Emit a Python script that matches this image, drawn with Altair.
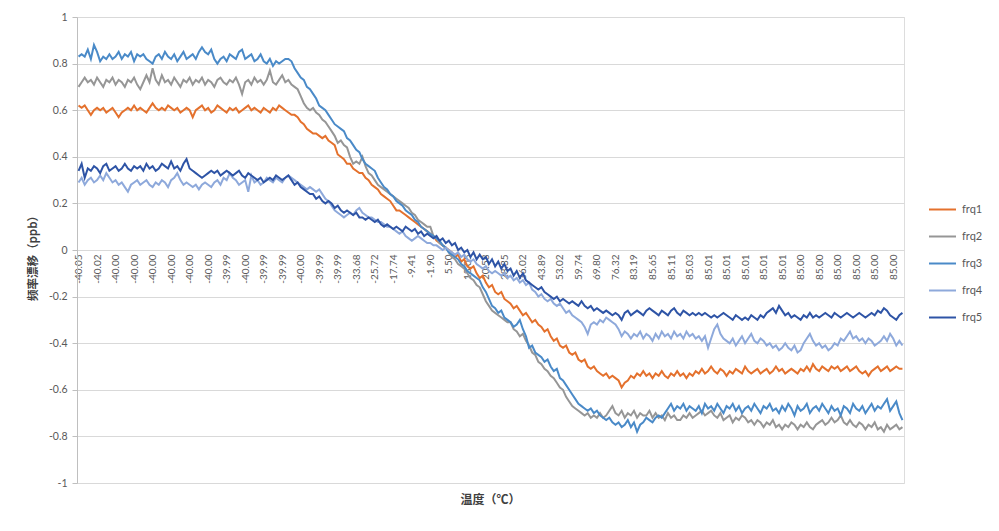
import altair as alt
import pandas as pd

SERIES = ["frq1", "frq2", "frq3", "frq4", "frq5"]
COLORS = ["#E4712D", "#969696", "#4A8AC8", "#8EA9DB", "#2E54A6"]

# category-axis labels (one label every 6 samples)
LABEL_STEP = 6
X_LABELS = ["-40.05", "-40.02", "-40.00", "-40.00", "-40.00", "-40.00", "-40.00", "-40.00",
            "-39.99", "-40.00", "-39.99", "-39.99", "-40.00", "-39.99", "-39.99", "-33.68",
            "-25.72", "-17.74", "-9.41", "-1.90", "5.50", "13.05", "20.58", "28.35", "36.02",
            "43.89", "53.02", "59.74", "69.80", "76.32", "83.19", "85.65", "85.11", "85.03",
            "85.01", "85.01", "85.01", "85.01", "85.01", "85.00", "85.00", "85.00", "85.00",
            "85.00", "85.00"]

frq1 = [
    0.62, 0.61, 0.62, 0.60, 0.58, 0.60, 0.61, 0.60, 0.61, 0.59,
    0.60, 0.61, 0.59, 0.57, 0.59, 0.60, 0.61, 0.60, 0.62, 0.60,
    0.61, 0.60, 0.59, 0.61, 0.63, 0.61, 0.60, 0.61, 0.60, 0.62,
    0.61, 0.60, 0.61, 0.59, 0.60, 0.61, 0.60, 0.57, 0.60, 0.61,
    0.62, 0.60, 0.61, 0.59, 0.60, 0.62, 0.61, 0.60, 0.59, 0.61,
    0.60, 0.61, 0.59, 0.60, 0.61, 0.62, 0.60, 0.61, 0.60, 0.59,
    0.61, 0.60, 0.59, 0.61, 0.60, 0.62, 0.61, 0.60, 0.59, 0.58,
    0.58, 0.57, 0.55, 0.54, 0.52, 0.51, 0.50, 0.50, 0.49, 0.48,
    0.49, 0.47, 0.46, 0.45, 0.41, 0.40, 0.39, 0.37, 0.37, 0.35,
    0.34, 0.33, 0.33, 0.31, 0.30, 0.28, 0.27, 0.26, 0.24, 0.23,
    0.22, 0.21, 0.19, 0.17, 0.17, 0.16, 0.15, 0.14, 0.13, 0.12,
    0.11, 0.10, 0.09, 0.08, 0.07, 0.06, 0.04, 0.03, 0.02, 0.01,
    0.00, -0.01, -0.03, -0.02, -0.05, -0.04, -0.07, -0.08, -0.07, -0.10,
    -0.12, -0.11, -0.14, -0.16, -0.15, -0.18, -0.19, -0.18, -0.21, -0.22,
    -0.23, -0.25, -0.24, -0.26, -0.28, -0.27, -0.29, -0.31, -0.30, -0.32,
    -0.33, -0.35, -0.34, -0.37, -0.39, -0.38, -0.41, -0.42, -0.41, -0.44,
    -0.45, -0.44, -0.47, -0.48, -0.47, -0.50, -0.51, -0.50, -0.52, -0.53,
    -0.54, -0.53, -0.55, -0.54, -0.55, -0.56, -0.59, -0.57, -0.56, -0.54,
    -0.55, -0.53, -0.54, -0.52, -0.54, -0.53, -0.55, -0.53, -0.54, -0.52,
    -0.54, -0.55, -0.53, -0.54, -0.52, -0.54, -0.53, -0.55, -0.53, -0.54,
    -0.52, -0.53, -0.51, -0.53, -0.52, -0.50, -0.52, -0.53, -0.51, -0.52,
    -0.54, -0.52, -0.53, -0.51, -0.52, -0.53, -0.50, -0.52, -0.53, -0.52,
    -0.51, -0.53, -0.52, -0.51, -0.53, -0.52, -0.50, -0.52, -0.51, -0.53,
    -0.52, -0.51, -0.52, -0.53, -0.51, -0.52, -0.50, -0.52, -0.49, -0.51,
    -0.52, -0.50, -0.51, -0.52, -0.50, -0.51, -0.50, -0.52, -0.51, -0.50,
    -0.52, -0.51, -0.50, -0.52, -0.53, -0.52, -0.54, -0.52, -0.51, -0.50,
    -0.52, -0.51, -0.50, -0.52, -0.51, -0.50, -0.51, -0.51,
]

frq2 = [
    0.70, 0.72, 0.74, 0.72, 0.73, 0.71, 0.74, 0.72, 0.70, 0.73,
    0.72, 0.74, 0.71, 0.73, 0.72, 0.70, 0.73, 0.72, 0.74, 0.71,
    0.69, 0.72, 0.75, 0.72, 0.78, 0.73, 0.71, 0.75, 0.72, 0.73,
    0.71, 0.74, 0.72, 0.70, 0.73, 0.72, 0.74, 0.71, 0.73, 0.72,
    0.74, 0.71, 0.73, 0.72, 0.70, 0.73, 0.74, 0.72, 0.71, 0.73,
    0.72, 0.74, 0.71, 0.67, 0.72, 0.73, 0.71, 0.74, 0.72, 0.73,
    0.71, 0.73, 0.77, 0.72, 0.71, 0.73, 0.75, 0.72, 0.73, 0.71,
    0.70, 0.69, 0.66, 0.63, 0.61, 0.60, 0.61, 0.59, 0.58, 0.56,
    0.55, 0.53, 0.51, 0.49, 0.46, 0.47, 0.45, 0.44, 0.40, 0.37,
    0.38, 0.37, 0.40, 0.36, 0.33, 0.32, 0.30, 0.28, 0.27, 0.26,
    0.25, 0.24, 0.23, 0.22, 0.21, 0.20, 0.19, 0.18, 0.16, 0.15,
    0.13, 0.12, 0.11, 0.10, 0.10, 0.06, 0.05, 0.03, 0.02, 0.01,
    -0.01, -0.03, -0.04, -0.06, -0.07, -0.08, -0.10, -0.12, -0.13, -0.15,
    -0.16, -0.19, -0.22, -0.24, -0.26, -0.27, -0.28, -0.29, -0.30, -0.31,
    -0.31, -0.34, -0.35, -0.37, -0.36, -0.39, -0.41, -0.44, -0.45, -0.48,
    -0.49, -0.51, -0.52, -0.54, -0.55, -0.57, -0.59, -0.60, -0.63, -0.65,
    -0.67, -0.68, -0.69, -0.70, -0.71, -0.70, -0.72, -0.71, -0.72, -0.70,
    -0.72, -0.71, -0.69, -0.67, -0.70, -0.71, -0.69, -0.72, -0.70, -0.71,
    -0.69, -0.72, -0.70, -0.71, -0.71, -0.69, -0.72, -0.70, -0.72, -0.71,
    -0.73, -0.70, -0.72, -0.71, -0.73, -0.73, -0.71, -0.72, -0.70, -0.72,
    -0.71, -0.70, -0.69, -0.71, -0.70, -0.69, -0.71, -0.72, -0.70, -0.73,
    -0.72, -0.71, -0.74, -0.72, -0.73, -0.71, -0.72, -0.74, -0.73, -0.75,
    -0.73, -0.74, -0.76, -0.74, -0.75, -0.73, -0.76, -0.75, -0.77, -0.75,
    -0.76, -0.74, -0.75, -0.77, -0.75, -0.76, -0.74, -0.76, -0.77, -0.75,
    -0.74, -0.73, -0.75, -0.74, -0.72, -0.74, -0.73, -0.71, -0.74, -0.75,
    -0.73, -0.75, -0.76, -0.74, -0.75, -0.77, -0.75, -0.76, -0.74, -0.77,
    -0.76, -0.78, -0.75, -0.77, -0.76, -0.75, -0.77, -0.76,
]

frq3 = [
    0.83, 0.84, 0.83, 0.86, 0.82, 0.88, 0.85, 0.81, 0.83, 0.82,
    0.84, 0.82, 0.83, 0.85, 0.82, 0.84, 0.83, 0.85, 0.81, 0.84,
    0.83, 0.84, 0.82, 0.81, 0.80, 0.83, 0.84, 0.82, 0.85, 0.83,
    0.82, 0.84, 0.81, 0.83, 0.85, 0.82, 0.83, 0.84, 0.82, 0.85,
    0.87, 0.85, 0.84, 0.86, 0.82, 0.80, 0.82, 0.83, 0.81, 0.84,
    0.83, 0.82, 0.85, 0.86, 0.82, 0.83, 0.84, 0.81, 0.82, 0.84,
    0.81, 0.80, 0.82, 0.79, 0.81, 0.80, 0.81, 0.82, 0.82, 0.81,
    0.78, 0.76, 0.74, 0.73, 0.70, 0.69, 0.67, 0.65, 0.62, 0.61,
    0.60, 0.58, 0.56, 0.54, 0.53, 0.52, 0.51, 0.48, 0.47, 0.45,
    0.43, 0.42, 0.39, 0.37, 0.36, 0.35, 0.34, 0.31, 0.29, 0.27,
    0.26, 0.24, 0.23, 0.21, 0.20, 0.19, 0.17, 0.16, 0.15, 0.13,
    0.12, 0.10, 0.09, 0.08, 0.07, 0.06, 0.05, 0.04, 0.02, 0.01,
    -0.01, -0.02, -0.03, -0.04, -0.06, -0.07, -0.09, -0.10, -0.11, -0.12,
    -0.13, -0.16, -0.18, -0.21, -0.24, -0.25, -0.27, -0.26, -0.29, -0.30,
    -0.31, -0.33, -0.32, -0.30, -0.34, -0.37, -0.42, -0.41, -0.44, -0.45,
    -0.46, -0.48, -0.47, -0.50, -0.52, -0.51, -0.55, -0.56, -0.58, -0.60,
    -0.62, -0.64, -0.66, -0.67, -0.68, -0.69, -0.68, -0.70, -0.69, -0.71,
    -0.72, -0.73, -0.72, -0.74, -0.75, -0.74, -0.76, -0.75, -0.73, -0.76,
    -0.74, -0.78, -0.75, -0.74, -0.72, -0.73, -0.74, -0.72, -0.71, -0.72,
    -0.70, -0.68, -0.66, -0.69, -0.67, -0.68, -0.66, -0.69, -0.67, -0.68,
    -0.69, -0.67, -0.70, -0.66, -0.68, -0.67, -0.69, -0.66, -0.68, -0.70,
    -0.67, -0.68, -0.66, -0.69, -0.67, -0.70, -0.68, -0.67, -0.69, -0.66,
    -0.68, -0.70, -0.67, -0.68, -0.66, -0.69, -0.68, -0.70, -0.67, -0.69,
    -0.66, -0.68, -0.71, -0.67, -0.69, -0.68, -0.66, -0.70, -0.68, -0.67,
    -0.69, -0.66, -0.68, -0.70, -0.67, -0.69, -0.68, -0.71, -0.67, -0.68,
    -0.70, -0.66, -0.68, -0.69, -0.67, -0.70, -0.68, -0.66, -0.69, -0.67,
    -0.68, -0.66, -0.64, -0.69, -0.67, -0.65, -0.70, -0.73,
]

frq4 = [
    0.29, 0.31, 0.28, 0.30, 0.31, 0.29, 0.30, 0.32, 0.30, 0.33,
    0.31, 0.29, 0.30, 0.28, 0.29, 0.27, 0.25, 0.28, 0.29, 0.30,
    0.28, 0.29, 0.30, 0.28, 0.27, 0.29, 0.28, 0.30, 0.29, 0.27,
    0.30, 0.31, 0.33, 0.30, 0.28, 0.29, 0.28, 0.27, 0.28, 0.26,
    0.28, 0.29, 0.28, 0.27, 0.29, 0.30, 0.28, 0.31, 0.30, 0.33,
    0.31, 0.30, 0.28, 0.29, 0.30, 0.25, 0.32, 0.29, 0.30, 0.28,
    0.29, 0.31, 0.30, 0.29, 0.31, 0.30, 0.29, 0.31, 0.32, 0.31,
    0.30, 0.29, 0.28, 0.27, 0.26, 0.27, 0.26, 0.25, 0.26, 0.24,
    0.22, 0.21, 0.19, 0.17, 0.16, 0.15, 0.14, 0.15, 0.16, 0.15,
    0.17, 0.18, 0.16, 0.15, 0.14, 0.14, 0.13, 0.12, 0.12, 0.11,
    0.10, 0.10, 0.09, 0.08, 0.07, 0.08, 0.06, 0.05, 0.04, 0.05,
    0.06, 0.05, 0.04, 0.03, 0.03, 0.02, 0.02, 0.01, 0.00, 0.01,
    0.00, -0.01, -0.02, -0.01, -0.03, -0.02, -0.04, -0.05, -0.04, -0.06,
    -0.07, -0.08, -0.07, -0.09, -0.10, -0.09, -0.10, -0.11, -0.10, -0.12,
    -0.11, -0.13, -0.12, -0.14, -0.13, -0.15, -0.14, -0.17, -0.18, -0.20,
    -0.19, -0.21, -0.22, -0.21, -0.23, -0.24, -0.23, -0.25, -0.27, -0.26,
    -0.28, -0.29, -0.30, -0.31, -0.33, -0.36, -0.32, -0.31, -0.32, -0.30,
    -0.31, -0.29, -0.30, -0.31, -0.32, -0.34, -0.37, -0.35, -0.36, -0.38,
    -0.36, -0.37, -0.35, -0.38, -0.36, -0.37, -0.39, -0.36, -0.38, -0.35,
    -0.37, -0.36, -0.38, -0.35, -0.37, -0.36, -0.38, -0.35, -0.37, -0.36,
    -0.38, -0.37, -0.39, -0.37, -0.42, -0.38, -0.34, -0.32, -0.36, -0.38,
    -0.39, -0.40, -0.38, -0.41, -0.39, -0.37, -0.40, -0.38, -0.36, -0.39,
    -0.40, -0.38, -0.39, -0.41, -0.40, -0.42, -0.41, -0.43, -0.42, -0.40,
    -0.42, -0.43, -0.41, -0.44, -0.43, -0.40, -0.38, -0.36, -0.39, -0.41,
    -0.40, -0.42, -0.41, -0.43, -0.42, -0.40, -0.41, -0.38, -0.39, -0.37,
    -0.35, -0.38, -0.37, -0.39, -0.38, -0.40, -0.38, -0.39, -0.41, -0.40,
    -0.39, -0.37, -0.39, -0.36, -0.38, -0.41, -0.39, -0.41,
]

frq5 = [
    0.34, 0.37, 0.31, 0.35, 0.34, 0.36, 0.35, 0.33, 0.36, 0.37,
    0.34, 0.35, 0.36, 0.34, 0.35, 0.37, 0.35, 0.34, 0.36, 0.35,
    0.36, 0.34, 0.37, 0.35, 0.36, 0.34, 0.35, 0.37, 0.36, 0.35,
    0.38, 0.35, 0.36, 0.34, 0.37, 0.39, 0.35, 0.34, 0.33, 0.32,
    0.31, 0.32, 0.33, 0.34, 0.33, 0.34, 0.32, 0.33, 0.34, 0.33,
    0.32, 0.33, 0.34, 0.32, 0.31, 0.33, 0.32, 0.31, 0.30, 0.31,
    0.29, 0.30, 0.31, 0.30, 0.32, 0.31, 0.30, 0.31, 0.32, 0.30,
    0.28, 0.29, 0.27, 0.26, 0.25, 0.24, 0.24, 0.22, 0.23, 0.21,
    0.20, 0.21, 0.20, 0.18, 0.19, 0.17, 0.16, 0.17, 0.16, 0.15,
    0.16, 0.14, 0.14, 0.13, 0.14, 0.13, 0.12, 0.13, 0.11, 0.10,
    0.11, 0.10, 0.09, 0.10, 0.09, 0.08, 0.10, 0.09, 0.08, 0.09,
    0.07, 0.08, 0.06, 0.07, 0.06, 0.05, 0.06, 0.04, 0.05, 0.03,
    0.04, 0.02, 0.03, 0.00, 0.01, -0.01, 0.00, -0.03, -0.01, -0.04,
    -0.02, -0.04, -0.03, -0.06, -0.04, -0.07, -0.05, -0.08, -0.06, -0.09,
    -0.08, -0.11, -0.09, -0.12, -0.10, -0.13, -0.14, -0.15, -0.16, -0.17,
    -0.16, -0.18, -0.19, -0.20, -0.21, -0.20, -0.22, -0.21, -0.22, -0.23,
    -0.22, -0.23, -0.24, -0.22, -0.24, -0.25, -0.24, -0.26, -0.25, -0.26,
    -0.27, -0.26, -0.27, -0.28, -0.27, -0.28, -0.30, -0.27, -0.26, -0.28,
    -0.27, -0.26, -0.27, -0.28, -0.26, -0.25, -0.26, -0.27, -0.28, -0.26,
    -0.27, -0.28, -0.26, -0.25, -0.27, -0.28, -0.26, -0.27, -0.28, -0.27,
    -0.28, -0.27, -0.28, -0.27, -0.28, -0.29, -0.28, -0.29, -0.28, -0.27,
    -0.28, -0.29, -0.30, -0.28, -0.29, -0.30, -0.29, -0.30, -0.28, -0.29,
    -0.30, -0.28, -0.29, -0.27, -0.26, -0.25, -0.27, -0.24, -0.26, -0.28,
    -0.27, -0.29, -0.28, -0.29, -0.30, -0.28, -0.29, -0.27, -0.29, -0.28,
    -0.29, -0.28, -0.27, -0.28, -0.29, -0.27, -0.28, -0.29, -0.28, -0.27,
    -0.28, -0.29, -0.28, -0.27, -0.28, -0.29, -0.28, -0.27, -0.28, -0.26,
    -0.27, -0.25, -0.26, -0.28, -0.29, -0.30, -0.28, -0.27,
]

VALUES = [frq1, frq2, frq3, frq4, frq5]
N = max(len(v) for v in VALUES)

rows = []
for name, vals in zip(SERIES, VALUES):
    for i, v in enumerate(vals):
        rows.append({"idx": i, "value": v, "series": name})
df = pd.DataFrame(rows)

W, H = 827, 466
label_js = "[" + ",".join("'%s'" % s for s in X_LABELS) + "]"
tick_vals = [k * LABEL_STEP for k in range(len(X_LABELS))]

base_font = "Lato"
cjk_font = "Noto Sans CJK SC"

chart = alt.Chart(df).mark_line(strokeWidth=2).encode(
    x=alt.X(
        "idx:Q",
        scale=alt.Scale(domain=[-0.5, N - 0.5], nice=False, zero=False),
        axis=alt.Axis(
            values=tick_vals,
            labelExpr=label_js + "[round(datum.value/%d)]" % LABEL_STEP,
            labelAngle=-90,
            labelAlign="right",
            labelBaseline="middle",
            labelPadding=4,
            labelFont=base_font,
            labelFontSize=10,
            labelColor="#595959",
            labelOverlap=False,
            labelBound=False,
            labelFlush=False,
            ticks=False,
            grid=False,
            domain=True,
            domainColor="#D9D9D9",
            domainWidth=1,
            offset=-H / 2,
            title=None,
        ),
    ),
    y=alt.Y(
        "value:Q",
        scale=alt.Scale(domain=[-1, 1], nice=False),
        axis=alt.Axis(
            values=[-1, -0.8, -0.6, -0.4, -0.2, 0, 0.2, 0.4, 0.6, 0.8, 1],
            labelExpr="toString(round(datum.value*10)/10)",
            labelFont=base_font,
            labelFontSize=10.5,
            labelColor="#595959",
            labelPadding=5,
            tickSize=5,
            tickColor="#BFBFBF",
            domainColor="#BFBFBF",
            gridColor="#D9D9D9",
            gridWidth=1,
            title="频率漂移（ppb）",
            titleFont=cjk_font,
            titleFontSize=11.5,
            titleFontWeight="bold",
            titleColor="#404040",
            titleX=-44,
            titleY=238,
            titleAngle=-90,
            titleAlign="center",
            titleBaseline="middle",
        ),
    ),
    color=alt.Color(
        "series:N",
        scale=alt.Scale(domain=SERIES, range=COLORS),
        legend=alt.Legend(
            title=None,
            orient="none",
            legendX=851,
            legendY=178,
            symbolType="stroke",
            symbolSize=729,
            symbolStrokeWidth=2,
            labelFont=base_font,
            labelFontSize=11,
            labelColor="#595959",
            labelOffset=5,
            labelLimit=60,
            rowPadding=7,
            padding=0,
        ),
    ),
    detail="series:N",
    order="idx:Q",
).properties(
    width=W,
    height=H,
    title=alt.TitleParams(
        "温度（℃）",
        orient="bottom",
        anchor="middle",
        font=cjk_font,
        fontSize=12,
        fontWeight="bold",
        color="#404040",
        offset=6,
    ),
    autosize=alt.AutoSizeParams(type="none"),
    padding={"left": 69, "top": 9, "right": 85, "bottom": 40},
).configure_view(stroke=None).configure(background="white")

chart.save("out.html", embed_options={"renderer": "svg", "actions": False})
